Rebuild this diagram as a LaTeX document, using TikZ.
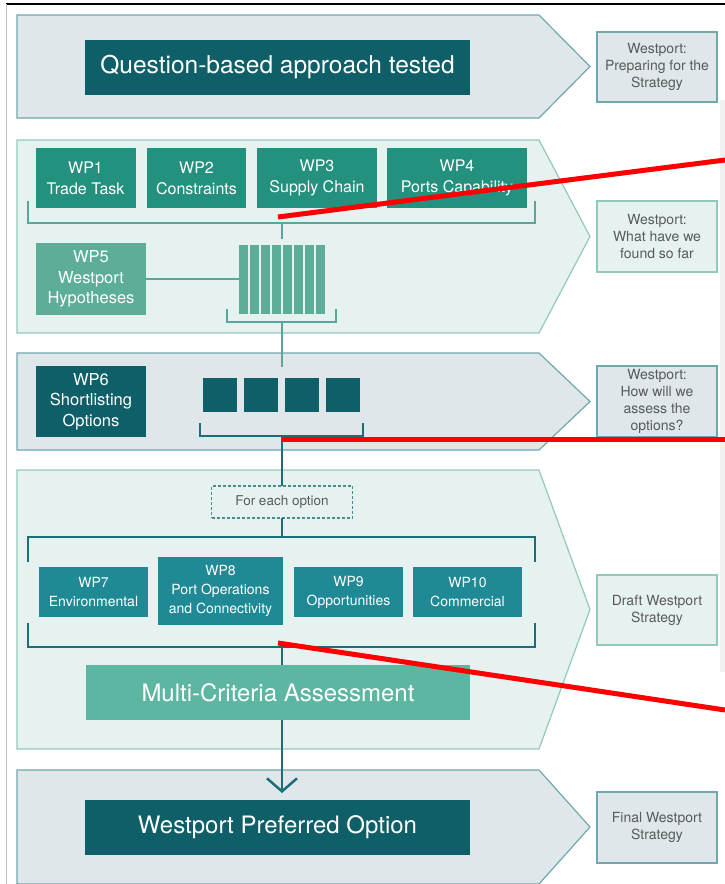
\documentclass[tikz,border=0pt]{standalone}
\usepackage{fontspec}
\setmainfont{TeX Gyre Heros}
\usetikzlibrary{arrows.meta}

\definecolor{bandbluefill}{HTML}{DFE7EA}
\definecolor{bandblueline}{HTML}{6FA9AB}
\definecolor{bandgreenfill}{HTML}{E6F2EF}
\definecolor{bandgreenline}{HTML}{93C9BB}
\definecolor{darkteal}{HTML}{0F5F68}
\definecolor{wpgreen}{HTML}{24917F}
\definecolor{wplight}{HTML}{5CAE98}
\definecolor{wpblue}{HTML}{1F8A95}
\definecolor{mcagreen}{HTML}{5DB6A1}
\definecolor{notetext}{HTML}{5A5A5A}
\definecolor{linkgreen}{HTML}{55A99B}
\definecolor{linkdark}{HTML}{1B6D78}
\definecolor{redmark}{HTML}{FF0000}

\begin{document}
\begin{tikzpicture}[x=1pt,y=-1pt,inner sep=0pt,outer sep=0pt,
bandblue/.style={draw=bandblueline,fill=bandbluefill,line width=1.2pt},
bandgreen/.style={draw=bandgreenline,fill=bandgreenfill,line width=1.2pt},
headbox/.style={fill=darkteal,text=white,minimum width=385pt,minimum height=55pt,font=\fontsize{24.5}{29}\selectfont},
wpbox/.style={fill=wpgreen,text=white,align=center,minimum height=60pt,font=\fontsize{16}{21}\selectfont},
sidebox/.style={text=white,align=center,minimum width=110pt,minimum height=71pt,font=\fontsize{16.5}{20.5}\selectfont},
optbox/.style={fill=wpblue,text=white,align=center,minimum height=50pt,font=\fontsize{14}{19}\selectfont},
notebox/.style={draw=bandblueline,fill=bandbluefill,line width=1.2pt,text=notetext,align=center,minimum width=120pt,minimum height=71pt,font=\fontsize{14}{17}\selectfont},
greennote/.style={notebox,draw=bandgreenline,fill=bandgreenfill},
bar/.style={fill=wplight,minimum width=8.7pt,minimum height=69pt},
square/.style={fill=darkteal,minimum width=34pt,minimum height=34pt},
greenlink/.style={draw=linkgreen,line width=2.5pt},
darklink/.style={draw=linkdark,line width=2.5pt},
redline/.style={draw=redmark,line width=5pt}]
\useasboundingbox (0,0) rectangle (725,884);

% frame of the page
\draw[line width=2pt] (6,4) -- (725,4);
\draw[gray!50,line width=1pt] (6,4) -- (6,884);
\fill[gray!12] (720,100) rectangle (725,672);

% chevron bands
\draw[bandblue] (17,15) -- (539,15) -- (590,66.5) -- (539,118) -- (17,118) -- cycle;
\draw[bandgreen] (17,140) -- (539,140) -- (590,236.5) -- (539,333) -- (17,333) -- cycle;
\draw[bandblue] (17,353) -- (539,353) -- (590,401.5) -- (539,450) -- (17,450) -- cycle;
\draw[bandgreen] (17,470) -- (539,470) -- (590,609.5) -- (539,749) -- (17,749) -- cycle;
\draw[bandblue] (17,770) -- (539,770) -- (590,827) -- (539,884) -- (17,884) -- cycle;

% band 1
\draw (277.5,67) node[headbox] (approach) {Question-based approach tested};

% band 2
\draw (85.5,178) node[wpbox,minimum width=100pt] (wp1) {WP1\\Trade Task};
\draw (196.5,178) node[wpbox,minimum width=99pt] (wp2) {WP2\\Constraints};
\draw (317,178) node[wpbox,minimum width=120pt] (wp3) {WP3\\Supply Chain};
\draw (457,178) node[wpbox,minimum width=140pt] (wp4) {WP4\\Ports Capability};
\draw (91,279) node[sidebox,fill=wplight,minimum height=72pt] (wp5) {WP5\\Westport\\Hypotheses};
\draw (281.5,279) node[minimum width=85pt,minimum height=69pt] (stack) {};
\draw (243.35,279) node[bar] (bar1) {};
\draw (254.35,279) node[bar] (bar2) {};
\draw (265.35,279) node[bar] (bar3) {};
\draw (276.35,279) node[bar] (bar4) {};
\draw (287.35,279) node[bar] (bar5) {};
\draw (298.35,279) node[bar] (bar6) {};
\draw (309.35,279) node[bar] (bar7) {};
\draw (320.35,279) node[bar] (bar8) {};
\coordinate (brA) at (282,223);
\coordinate (brB) at (282,322);
\draw[greenlink] (28,201) |- (535,223) -- (535,201);
\draw[greenlink] (brA) -- ([yshift=6pt]stack.north -| brA);
\draw[greenlink] (wp5.east) -- (bar1.west);
\draw[greenlink] (227,309) |- (336,322) -- (336,309);

% band 3
\draw (91,401.5) node[sidebox,fill=darkteal] (wp6) {WP6\\Shortlisting\\Options};
\draw (281,395) node[minimum width=156pt,minimum height=34pt] (shortlist) {};
\draw (220,395) node[square] (opt1) {};
\draw (261,395) node[square] (opt2) {};
\draw (302,395) node[square] (opt3) {};
\draw (343,395) node[square] (opt4) {};
\coordinate (brC) at (282,436);
\draw[greenlink] (brB) -- ([yshift=11pt]shortlist.north -| brB);
\draw[darklink] (200,423) |- (363,436) -- (363,423);

% band 4
\draw (282,502) node[draw=linkdark!80,line width=1.2pt,dash pattern=on 3pt off 2pt,minimum width=141pt,minimum height=32pt,text=notetext,font=\fontsize{13.5}{17}\selectfont] (each) {For each option};
\coordinate (brD) at (282,537);
\coordinate (brE) at (282,647);
\draw (93.5,592) node[optbox,minimum width=109pt] (wp7) {WP7\\Environmental};
\draw (220.5,591) node[optbox,minimum width=125pt,minimum height=68pt] (wp8) {WP8\\Port Operations\\and Connectivity};
\draw (348.5,592) node[optbox,minimum width=109pt] (wp9) {WP9\\Opportunities};
\draw (467.5,592) node[optbox,minimum width=109pt] (wp10) {WP10\\Commercial};
\draw (278,692.5) node[fill=mcagreen,text=white,minimum width=384pt,minimum height=55pt,font=\fontsize{24}{28}\selectfont] (mca) {Multi-Criteria Assessment};
\draw[darklink] (brC) -- (each.north);
\draw[darklink] (each.south) -- (brD);
\draw[darklink] (28,562) |- (535,537) -- (535,562);
\draw[darklink] (28,623) |- (535,647) -- (535,623);
\draw[darklink] (brE) -- (brE |- mca.north);

% band 5
\draw (277.5,827.5) node[headbox,font=\fontsize{24}{28}\selectfont] (preferred) {Westport Preferred Option};
\coordinate (tip) at (282,793);
\draw[darklink,-{Straight Barb[length=13pt,width=30pt,line width=2.5pt]}] (brE |- mca.south) -- (tip);

% outcomes on the right
\draw (657,67) node[notebox,minimum height=70pt] (note1) {Westport:\\Preparing for the\\Strategy};
\draw (657,236.5) node[greennote] (note2) {Westport:\\What have we\\found so far};
\draw (657,401.5) node[notebox] (note3) {Westport:\\How will we\\assess the\\options?};
\draw (657,610) node[greennote,minimum height=70pt] (note4) {Draft Westport\\Strategy};
\draw (657,827.5) node[notebox] (note5) {Final Westport\\Strategy};

% red marks
\coordinate (redA) at (725,160);
\coordinate (redB) at (725,439);
\coordinate (redC) at (725,710);
\draw[redline] (278,217) -- (redA);
\draw[redline] (282,439) -- (redB);
\draw[redline] (278,643) -- (redC);

\end{tikzpicture}
\end{document}
